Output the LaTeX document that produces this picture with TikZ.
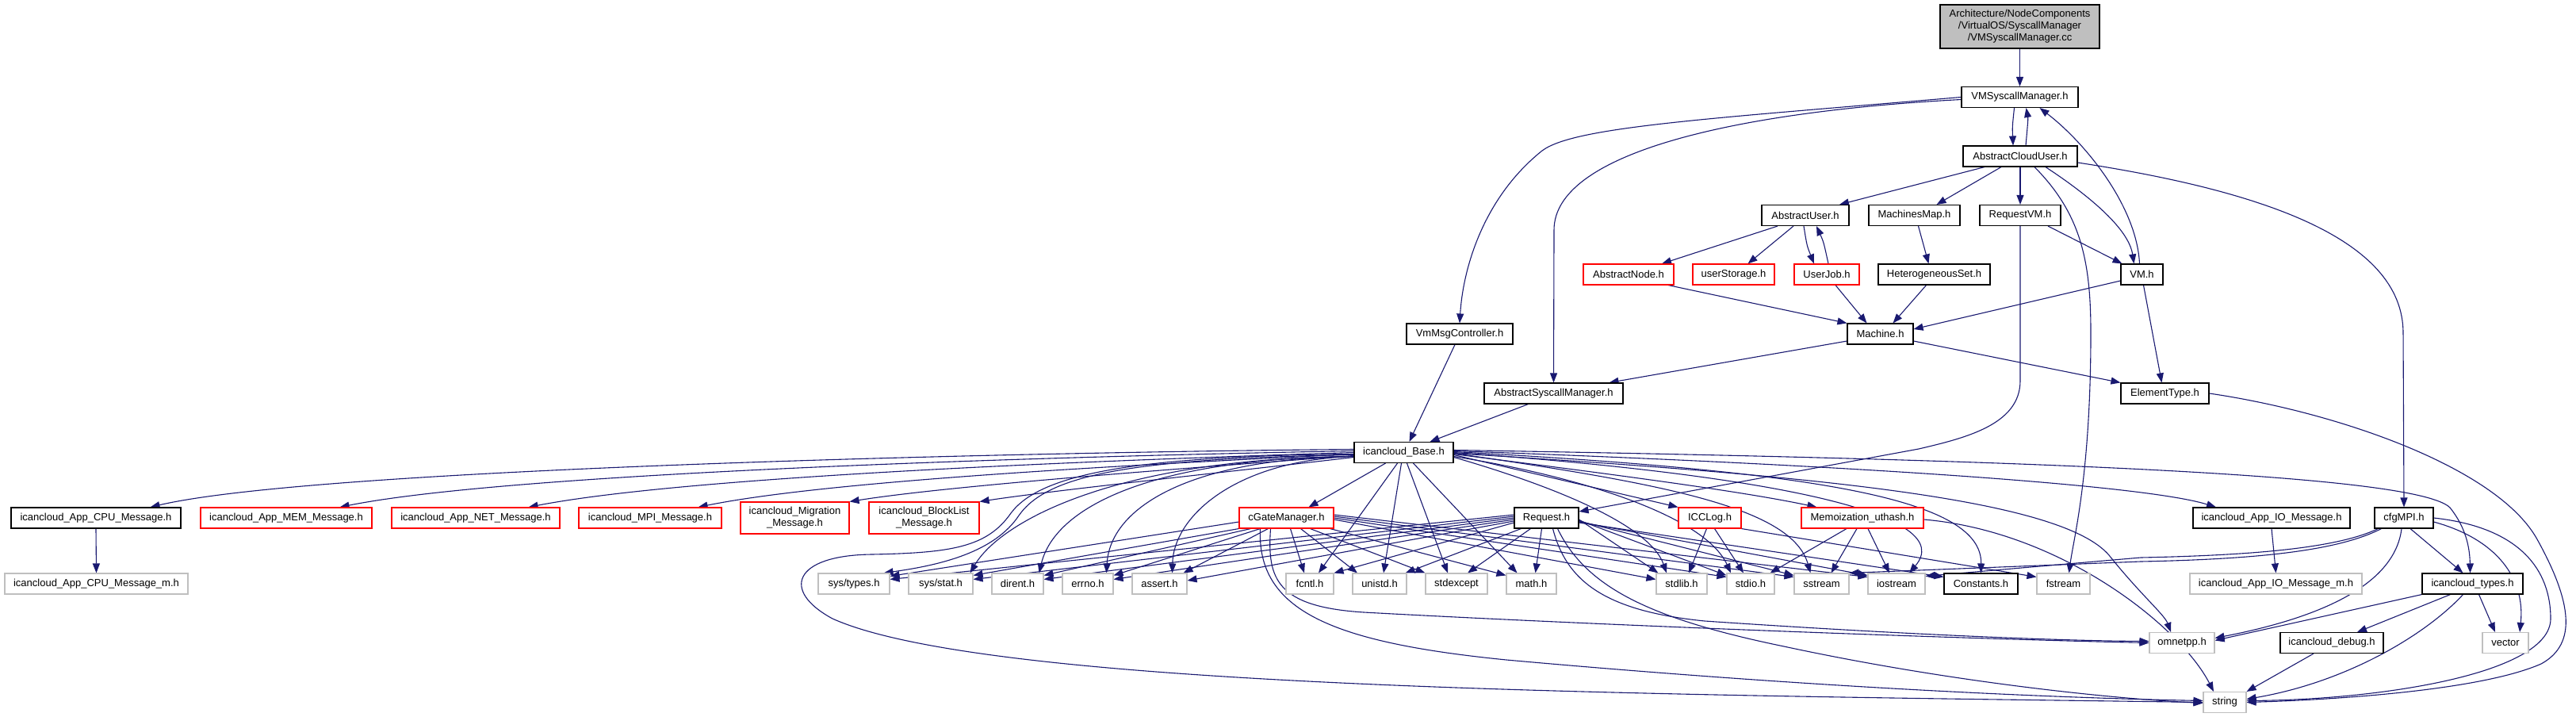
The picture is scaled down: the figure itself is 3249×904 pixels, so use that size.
\documentclass[tikz,border=0pt]{standalone}
\usepackage{fontspec}
\setmainfont{Liberation Sans}
\usetikzlibrary{arrows.meta,backgrounds}
\definecolor{navy}{HTML}{191970}
\definecolor{lgray}{HTML}{BFBFBF}
\definecolor{bred}{HTML}{FF0000}
\tikzset{
  nb/.style={draw=black, fill=white, line width=1.1pt, inner sep=0pt, minimum height=26pt, align=center, font=\fontsize{13}{15}\selectfont},
  nr/.style={nb, draw=bred},
  ng/.style={nb, draw=lgray},
  e/.style={draw=navy, line width=1.1pt, -{Triangle[length=12pt,width=9pt]}},
}
\begin{document}
\begin{tikzpicture}[x=1pt,y=-1pt]
\useasboundingbox (0,0) rectangle (3249,904);
% ---------- nodes ----------
\node[nb, fill=lgray, minimum width=201pt, minimum height=55pt] (arch) at (2547.5,33.5) {Architecture/NodeComponents\\/VirtualOS/SyscallManager\\/VMSyscallManager.cc};
\node[nb, minimum width=147pt] (vmsm) at (2547.5,122.5) {VMSyscallManager.h};
\node[nb, minimum width=144pt] (acu) at (2548,197) {AbstractCloudUser.h};
\node[nb, minimum width=110pt] (au) at (2277,271.5) {AbstractUser.h};
\node[nb, minimum width=115pt] (mm) at (2414.5,271.5) {MachinesMap.h};
\node[nb, minimum width=102pt] (rvm) at (2548,271.5) {RequestVM.h};
\node[nr, minimum width=114pt] (an) at (2054,346) {AbstractNode.h};
\node[nr, minimum width=103pt] (us) at (2186.5,346) {userStorage.h};
\node[nr, minimum width=82pt] (uj) at (2304,346) {UserJob.h};
\node[nb, minimum width=141pt] (hs) at (2439.5,346) {HeterogeneousSet.h};
\node[nb, minimum width=53pt] (vm) at (2701.5,346) {VM.h};
\node[nb, minimum width=134pt] (vmmsg) at (1841,421) {VmMsgController.h};
\node[nb, minimum width=83pt] (machine) at (2371.5,421) {Machine.h};
\node[nb, minimum width=175pt] (asm) at (1959.5,496) {AbstractSyscallManager.h};
\node[nb, minimum width=111pt] (et) at (2730.5,496) {ElementType.h};
\node[nb, minimum width=125pt] (base) at (1770.5,570.5) {icancloud\_Base.h};
% message row
\node[nb, minimum width=214pt] (cpu) at (121,653) {icancloud\_App\_CPU\_Message.h};
\node[nr, minimum width=216pt] (mem) at (361,653) {icancloud\_App\_MEM\_Message.h};
\node[nr, minimum width=212pt] (net) at (600,653) {icancloud\_App\_NET\_Message.h};
\node[nr, minimum width=180pt] (mpi) at (820,653) {icancloud\_MPI\_Message.h};
\node[nr, minimum width=137pt, minimum height=40pt] (migration) at (1002.5,653) {icancloud\_Migration\\\_Message.h};
\node[nr, minimum width=139pt, minimum height=40pt] (blocklist) at (1165.5,653) {icancloud\_BlockList\\\_Message.h};
\node[nr, minimum width=119pt] (cgate) at (1622.5,653) {cGateManager.h};
\node[nb, minimum width=81pt] (request) at (1950.5,653) {Request.h};
\node[nr, minimum width=79pt] (icclog) at (2156.5,653) {ICCLog.h};
\node[nr, minimum width=154pt] (memo) at (2349,653) {Memoization\_uthash.h};
\node[nb, minimum width=198pt] (appio) at (2865,653) {icancloud\_App\_IO\_Message.h};
\node[nb, minimum width=74pt] (cfg) at (3032,653) {cfgMPI.h};
% system row
\node[ng, minimum width=231pt] (cpum) at (121.5,736) {icancloud\_App\_CPU\_Message\_m.h};
\node[ng, minimum width=90pt] (systypes) at (1077,736) {sys/types.h};
\node[ng, minimum width=81pt] (sysstat) at (1186.5,736) {sys/stat.h};
\node[ng, minimum width=65pt] (dirent) at (1283.5,736) {dirent.h};
\node[ng, minimum width=64pt] (errno) at (1372,736) {errno.h};
\node[ng, minimum width=69pt] (assert) at (1462.5,736) {assert.h};
\node[ng, minimum width=60pt] (fcntl) at (1652,736) {fcntl.h};
\node[ng, minimum width=68pt] (unistd) at (1740,736) {unistd.h};
\node[ng, minimum width=78pt] (stdexcept) at (1837,736) {stdexcept};
\node[ng, minimum width=63pt] (math) at (1931.5,736) {math.h};
\node[ng, minimum width=64pt] (stdlib) at (2121,736) {stdlib.h};
\node[ng, minimum width=60pt] (stdio) at (2208,736) {stdio.h};
\node[ng, minimum width=69pt] (sstream) at (2297.5,736) {sstream};
\node[ng, minimum width=72pt] (iostream) at (2392,736) {iostream};
\node[nb, minimum width=93pt] (constants) at (2498.5,736) {Constants.h};
\node[ng, minimum width=67pt] (fstream) at (2602.5,736) {fstream};
\node[ng, minimum width=217pt] (appiom) at (2870.5,736) {icancloud\_App\_IO\_Message\_m.h};
\node[nb, minimum width=127pt] (types) at (3118.5,736) {icancloud\_types.h};
\node[ng, minimum width=82pt] (omnetpp) at (2752,810.5) {omnetpp.h};
\node[nb, minimum width=130pt] (debug) at (2941,810.5) {icancloud\_debug.h};
\node[ng, minimum width=58pt] (vector) at (3160,810.5) {vector};
\node[ng, minimum width=54pt] (string) at (2806,885.5) {string};
% ---------- edges ----------
\begin{pgfonlayer}{background}
% upper part
\draw[e] (arch.south) -- (vmsm.north);
\draw[e] ([xshift=-7pt]vmsm.south) .. controls (2538,160) .. ([xshift=-9pt]acu.north);
\draw[e] ([xshift=7pt]acu.north) .. controls (2558,150) .. ([xshift=8pt]vmsm.south);
\draw[e] ([xshift=-3pt]vm.north) .. controls (2695,260) and (2630,180) .. ([xshift=25pt]vmsm.south);
\draw[e] ([xshift=32pt]acu.south) .. controls (2640,250) and (2685,290) .. ([xshift=-10pt]vm.north);
\draw[e] (vmsm.west) .. controls (2150,150) and (1985,160) .. (1945,190) .. controls (1870,250) and (1845,340) .. (vmmsg.north);
\draw[e] ([yshift=-3pt]vmsm.west) .. controls (2200,140) and (1960,190) .. (1960,290) -- (asm.north);
\draw[e] ([xshift=-45pt]acu.south) -- ([xshift=43pt]au.north);
\draw[e] ([xshift=-24pt]acu.south) -- ([xshift=28pt]mm.north);
\draw[e] (acu.south) -- (rvm.north);
\draw[e] ([xshift=18pt]acu.south) .. controls (2625,270) and (2637,330) .. (2637,420) .. controls (2637,600) and (2615,680) .. ([xshift=7pt]fstream.north);
\draw[e] ([yshift=-8pt]acu.east) .. controls (2850,240) and (3031,300) .. (3031,420) -- (cfg.north);
\draw[e] ([xshift=35pt]rvm.south) -- ([xshift=-25pt]vm.north);
\draw[e] (rvm.south) -- (2548,480) .. controls (2548,535) and (2480,552) .. (2420,566) -- ([yshift=8pt]request.east);
\draw[e] ([xshift=5pt]mm.south) -- ([xshift=-7pt]hs.north);
\draw[e] ([xshift=-10pt]hs.south) -- ([xshift=16pt]machine.north);
\draw[e] ([xshift=-35pt]au.south) -- ([xshift=42pt]an.north);
\draw[e] ([xshift=-15pt]au.south) -- ([xshift=18pt]us.north);
\draw[e] ([xshift=-2pt]au.south) .. controls (2279,310) .. ([xshift=-16pt]uj.north);
\draw[e] ([xshift=2pt]uj.north) .. controls (2300,305) .. ([xshift=14pt]au.south);
\draw[e] ([xshift=50pt]an.south) -- (machine.north west);
\draw[e] ([xshift=11pt]uj.south) -- ([xshift=-17pt]machine.north);
\draw[e] ([yshift=-8pt]vm.west) -- ([yshift=6pt]machine.east);
\draw[e] ([xshift=2pt]vm.south) -- ([xshift=-4pt]et.north);
\draw[e] ([yshift=-9pt]machine.west) -- ([xshift=70pt]asm.north);
\draw[e] ([yshift=-9pt]machine.east) -- (et.north west);
\draw[e] ([xshift=-6pt]vmmsg.south) -- ([xshift=7pt]base.north);
\draw[e] ([xshift=-32pt]asm.south) -- ([xshift=33pt]base.north);
\draw[e] (et.east) .. controls (2950,520) and (3150,590) .. (3200,680) .. controls (3250,770) and (3245,815) .. (3205,837) .. controls (3130,870) and (2950,882) .. (string.east);
% cfgMPI and lower right
\draw[e] (cfg.east) .. controls (3180,665) and (3217,720) .. (3217,780) .. controls (3217,850) and (3000,882) .. ([yshift=2pt]string.east);
\draw[e] ([yshift=-5pt]cfg.east) .. controls (3150,680) and (3185,730) .. ([xshift=18pt]vector.north);
\draw[e] ([xshift=8pt]cfg.south) -- ([xshift=-12pt]types.north);
\draw[e] ([xshift=-3pt]cfg.south) .. controls (3020,740) and (2920,780) .. ([yshift=6pt]omnetpp.east);
\draw[e] ([xshift=5pt]cfg.south west) .. controls (2950,690) and (2850,700) .. (2700,703) -- ([yshift=-4pt]iostream.north east);
\draw[e] ([xshift=9pt]cfg.south west) .. controls (2950,694) and (2850,705) .. (2700,708) -- (sstream.north east);
\draw[e] (types.south west) -- ([yshift=3pt]omnetpp.east);
\draw[e] ([xshift=-28pt]types.south) -- ([xshift=32pt]debug.north);
\draw[e] ([xshift=-12pt]types.south) .. controls (3060,800) and (2960,860) .. ([yshift=4pt]string.east);
\draw[e] ([xshift=8pt]types.south) -- ([xshift=-13pt]vector.north);
\draw[e] ([xshift=-23pt]debug.south) -- (string.north east);
\draw[e] (appio.south) -- (appiom.north);
\draw[e] (cpu.south) -- (cpum.north);
% icancloud_Base
\draw[e] ([yshift=4pt]base.west) .. controls (1300,570) and (400,590) .. ([xshift=-39pt]cpu.north east);
\draw[e] ([yshift=2pt]base.west) .. controls (1350,575) and (650,595) .. ([xshift=-41pt]mem.north east);
\draw[e] (base.west) .. controls (1400,580) and (870,600) .. ([xshift=-40pt]net.north east);
\draw[e] ([yshift=-2pt]base.west) .. controls (1450,585) and (1050,605) .. ([xshift=-30pt]mpi.north east);
\draw[e] ([yshift=-4pt]base.west) .. controls (1500,590) and (1200,612) .. (migration.north east);
\draw[e] ([yshift=-6pt]base.west) .. controls (1550,595) and (1330,618) .. (blocklist.north east);
\draw[e] ([yshift=-3pt]base.west) .. controls (1420,578) and (1320,600) .. (1285,650) .. controls (1255,695) and (1190,712) .. ([xshift=-8pt]systypes.north east);
\draw[e] ([yshift=-5pt]base.west) .. controls (1400,578) and (1260,660) .. ([xshift=-4pt]sysstat.north east);
\draw[e] ([yshift=-5pt]base.west) .. controls (1450,578) and (1330,640) .. ([xshift=-6pt]dirent.north east);
\draw[e] ([yshift=-5pt]base.west) .. controls (1500,578) and (1400,640) .. ([xshift=-9pt]errno.north east);
\draw[e] ([yshift=-5pt]base.west) .. controls (1560,580) and (1480,650) .. ([xshift=-19pt]assert.north east);
\draw[e] ([yshift=-2pt]base.west) .. controls (1420,575) and (1310,600) .. (1275,647) .. controls (1245,690) and (1200,697) .. (1100,699) .. controls (1000,700) and (985,745) .. (1050,780) .. controls (1250,870) and (2100,876) .. (string.west);
\draw[e] ([xshift=-23pt]base.south) -- ([xshift=28pt]cgate.north);
\draw[e] ([xshift=-8pt]base.south) -- ([xshift=11pt]fcntl.north);
\draw[e] ([xshift=-3pt]base.south) -- ([xshift=5pt]unistd.north);
\draw[e] ([xshift=4pt]base.south) -- ([xshift=-11pt]stdexcept.north);
\draw[e] ([xshift=12pt]base.south) -- ([xshift=-18pt]math.north);
\draw[e] ([yshift=-6pt]base.east) .. controls (1950,610) and (2080,660) .. ([xshift=-19pt]stdlib.north);
\draw[e] ([yshift=-5pt]base.east) .. controls (1990,600) and (2150,650) .. ([xshift=-25pt]stdio.north);
\draw[e] ([yshift=-3pt]base.east) -- (icclog.north west);
\draw[e] ([yshift=-2pt]base.east) .. controls (2050,600) and (2200,620) .. ([xshift=20pt]memo.north west);
\draw[e] ([yshift=-1pt]base.east) .. controls (2100,610) and (2260,640) .. ([xshift=-14pt]sstream.north);
\draw[e] (base.east) .. controls (2250,600) and (2470,650) .. ([xshift=16pt]iostream.north);
\draw[e] ([yshift=1pt]base.east) .. controls (2300,595) and (2500,630) .. (constants.north);
\draw[e] ([yshift=2pt]base.east) .. controls (2300,585) and (2700,610) .. ([xshift=-70pt]appio.north);
\draw[e] ([yshift=3pt]base.east) .. controls (2600,580) and (3050,600) .. (3090,640) .. controls (3110,665) and (3115,690) .. ([xshift=-3pt]types.north);
\draw[e] ([yshift=-1pt]base.east) .. controls (2300,600) and (2600,630) .. (2660,700) .. controls (2700,750) and (2730,775) .. ([xshift=-14pt]omnetpp.north);
% cGateManager
\draw[e] ([yshift=-5pt]cgate.west) -- ([yshift=-4pt]systypes.north east);
\draw[e] (cgate.south west) -- ([yshift=-3pt]sysstat.north east);
\draw[e] ([xshift=15pt]cgate.south west) -- ([yshift=-3pt]dirent.north east);
\draw[e] ([xshift=27pt]cgate.south west) -- ([yshift=-3pt]errno.north east);
\draw[e] ([xshift=37pt]cgate.south west) -- ([xshift=-5pt]assert.north east);
\draw[e] ([xshift=5pt]cgate.south) -- ([xshift=-7pt]fcntl.north);
\draw[e] ([xshift=18pt]cgate.south) -- ([xshift=-28pt]unistd.north);
\draw[e] ([xshift=30pt]cgate.south) -- (stdexcept.north west);
\draw[e] ([xshift=-5pt]cgate.south east) -- ([yshift=-3pt]math.north west);
\draw[e] ([yshift=-2pt]cgate.east) -- ([yshift=-8pt]stdlib.north west);
\draw[e] (cgate.east) -- ([yshift=-5pt]stdio.north west);
\draw[e] ([yshift=2pt]cgate.east) -- ([yshift=-5pt]sstream.north west);
\draw[e] ([yshift=4pt]cgate.east) -- ([yshift=-5pt]iostream.north west);
\draw[e] ([xshift=-20pt]cgate.south) .. controls (1598,730) and (1610,765) .. (1720,772) .. controls (2050,790) and (2500,806) .. (omnetpp.west);
\draw[e] ([xshift=-33pt]cgate.south) .. controls (1585,770) and (1680,810) .. (1900,832) .. controls (2300,868) and (2600,880) .. ([yshift=2pt]string.west);
% Request.h
\draw[e] ([yshift=4pt]request.west) -- ([yshift=-8pt]systypes.north east);
\draw[e] ([yshift=2pt]request.west) -- ([yshift=-8pt]sysstat.north east);
\draw[e] (request.west) -- ([yshift=-8pt]dirent.north east);
\draw[e] ([yshift=-2pt]request.west) -- ([yshift=-8pt]errno.north east);
\draw[e] ([yshift=-4pt]request.west) -- ([yshift=4pt]assert.east);
\draw[e] ([yshift=-6pt]request.west) -- (fcntl.north east);
\draw[e] ([xshift=-32pt]request.south) -- ([xshift=-2pt]unistd.north east);
\draw[e] ([xshift=-20pt]request.south) -- ([xshift=14pt]stdexcept.north);
\draw[e] ([xshift=-6pt]request.south) -- ([xshift=5pt]math.north);
\draw[e] ([yshift=-2pt]request.east) -- ([xshift=3pt]stdlib.north west);
\draw[e] ([yshift=-3pt]request.east) -- ([yshift=-3pt]stdio.north west);
\draw[e] ([yshift=-4pt]request.east) -- ([yshift=-3pt]sstream.north west);
\draw[e] ([yshift=-5pt]request.east) -- ([yshift=-3pt]iostream.north west);
\draw[e] ([yshift=-6pt]request.east) -- ([yshift=-5pt]constants.north west);
\draw[e] ([xshift=8pt]request.south) .. controls (1975,730) and (2020,770) .. (2150,783) .. controls (2400,800) and (2600,808) .. ([yshift=2pt]omnetpp.west);
\draw[e] ([xshift=14pt]request.south) .. controls (2000,740) and (2080,780) .. (2250,815) .. controls (2450,858) and (2650,880) .. ([yshift=-1pt]string.west);
% ICCLog.h
\draw[e] ([xshift=-4pt]icclog.south) -- ([xshift=9pt]stdlib.north);
\draw[e] ([xshift=6pt]icclog.south) -- ([xshift=-9pt]stdio.north);
\draw[e] (icclog.south east) -- ([yshift=-5pt]fstream.north west);
% Memoization_uthash.h
\draw[e] ([xshift=-20pt]memo.south) -- ([xshift=-6pt]stdio.north east);
\draw[e] ([xshift=-7pt]memo.south) -- ([xshift=12pt]sstream.north);
\draw[e] ([xshift=7pt]memo.south) -- ([xshift=-9pt]iostream.north);
\draw[e] ([yshift=-2pt]memo.east) .. controls (2600,670) and (2750,790) .. ([xshift=-14pt]string.north);
\end{pgfonlayer}
\end{tikzpicture}
\end{document}
